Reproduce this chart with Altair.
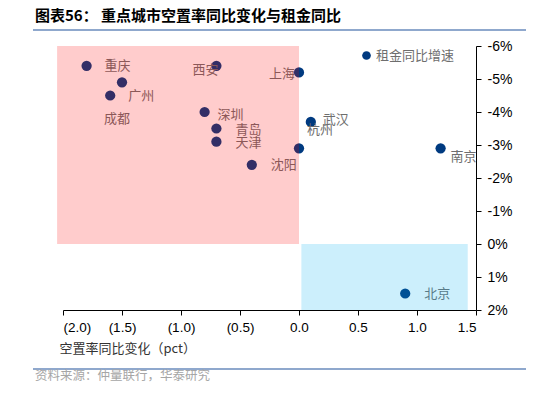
import altair as alt
import pandas as pd

# ---- data ----
cities = ["重庆", "成都", "广州", "西安", "上海", "深圳", "青岛", "天津", "沈阳", "杭州", "武汉", "南京", "北京"]
vacancy_chg = [-1.8, -1.5, -1.6, -0.7, 0.0, -0.8, -0.7, -0.7, -0.4, 0.0, 0.1, 1.2, 0.9]
rent_yoy = [-5.4, -4.9, -4.5, -5.4, -5.2, -4.0, -3.5, -3.1, -2.4, -2.9, -3.7, -2.9, 1.5]

zone_names = ["pink", "blue"]
zone_x1 = [-2.05, 0.02]
zone_x2 = [0.0, 1.43]
zone_y1 = [-6.0, 0.0]
zone_y2 = [0.0, 2.0]
zone_colors = ["#FF0000", "#00B0F0"]

x_ticks = [-2.0, -1.5, -1.0, -0.5, 0.0, 0.5, 1.0, 1.5]
y_ticks = [-6, -5, -4, -3, -2, -1, 0, 1, 2]

series_name = "租金同比增速"
title_text = "图表56： 重点城市空置率同比变化与租金同比"
x_title = "空置率同比变化（pct）"
source_text = "资料来源：仲量联行，华泰研究"

# label placement styling (align, dx, dy) per city
label_style = {
    "重庆": ("left", 18, 0), "广州": ("left", 18, 0), "成都": ("center", -5, 37),
    "西安": ("right", 2, 4), "上海": ("right", -4, 2), "深圳": ("left", 13, 3),
    "青岛": ("left", 19, 1), "天津": ("left", 19, 1), "沈阳": ("left", 19, 0),
    "武汉": ("left", 12, -2), "杭州": ("left", 8, -18), "南京": ("left", 10, 9),
    "北京": ("left", 19, 0),
}

FONT = "Noto Sans CJK SC"
W, H = 413, 264

df = pd.DataFrame({"city": cities, "x": vacancy_chg, "y": rent_yoy})
df["series"] = series_name
zones = pd.DataFrame({"zone": zone_names, "x1": zone_x1, "x2": zone_x2, "y1": zone_y1, "y2": zone_y2})

xscale = alt.Scale(domain=[-2.0, 1.5], nice=False, zero=False)
yscale = alt.Scale(domain=[-6, 2], nice=False, zero=False, reverse=True)

x_axis = alt.Axis(
    values=x_ticks, grid=False, domainColor="#000", tickColor="#000", tickSize=5,
    labelExpr="datum.value < 0 ? '(' + format(-datum.value, '.1f') + ')' : format(datum.value, '.1f')",
    labelFont="Liberation Sans", labelFontSize=13.5, labelColor="#000", labelPadding=5,
    labelOverlap=False,
    title=x_title, titleFont=FONT, titleFontSize=13, titleFontWeight="normal", titleColor="#333",
    titleAnchor="start", titleAlign="left", titleX=-4, titleY=42, titleBaseline="alphabetic",
)
y_axis = alt.Axis(
    orient="right", values=y_ticks, grid=False, domainColor="#000", tickColor="#000", tickSize=5,
    labelExpr="datum.value + '%'", labelFont="Liberation Sans", labelFontSize=14, labelColor="#000",
    labelPadding=6, labelOverlap=False, title=None,
)

base = alt.Chart(df)

points = base.mark_circle(size=105, opacity=1).encode(
    x=alt.X("x:Q", scale=xscale, axis=x_axis),
    y=alt.Y("y:Q", scale=yscale, axis=y_axis),
    color=alt.Color(
        "series:N",
        scale=alt.Scale(domain=[series_name], range=["#003A80"]),
        legend=alt.Legend(
            title=None, orient="none", legendX=297, legendY=3, symbolType="circle", symbolSize=75,
            labelFont=FONT, labelFontSize=13, labelColor="#6E6E6E", padding=0, labelOffset=3,
        ),
    ),
)

label_layers = []
groups = {}
for c in cities:
    groups.setdefault(label_style[c], []).append(c)
for (align, dx, dy), names in groups.items():
    label_layers.append(
        base.transform_filter(alt.FieldOneOfPredicate(field="city", oneOf=names))
        .mark_text(align=align, baseline="middle", dx=dx, dy=dy, font=FONT, fontSize=13, color="#6E6E6E")
        .encode(x=alt.X("x:Q", scale=xscale, axis=x_axis),
                y=alt.Y("y:Q", scale=yscale, axis=y_axis), text="city:N")
    )

rects = alt.Chart(zones).mark_rect(opacity=0.2).encode(
    x=alt.X("x1:Q", scale=xscale, axis=x_axis),
    x2="x2:Q",
    y=alt.Y("y1:Q", scale=yscale, axis=y_axis),
    y2="y2:Q",
    color=alt.Color("zone:N", scale=alt.Scale(domain=zone_names, range=zone_colors), legend=None),
)

top_line = alt.Chart(df).mark_rule(color="#8FA8CC", strokeWidth=1.5).encode(
    x=alt.value(-30), x2=alt.value(463), y=alt.value(-16)
)
bottom_line = alt.Chart(df).mark_rule(color="#8FA8CC", strokeWidth=1.5).encode(
    x=alt.value(-30), x2=alt.value(463), y=alt.value(323)
)
source = alt.Chart(pd.DataFrame({"t": [source_text]})).mark_text(
    align="left", baseline="middle", font=FONT, fontSize=12.5, color="#A6A6A6"
).encode(x=alt.value(-28), y=alt.value(330), text="t:N")

chart = alt.layer(points, *label_layers, rects, top_line, bottom_line, source).resolve_scale(
    color="independent"
).properties(
    width=W, height=H,
    background="white",
    autosize=alt.AutoSizeParams(type="none"),
    padding={"left": 55, "top": 38, "right": 50, "bottom": 75},
    title=alt.Title(title_text, anchor="start", font=FONT, fontSize=15, fontWeight="bold",
                    color="#000", dx=-28, offset=5, frame="group"),
).configure_view(stroke=None)

chart.save("out.html", embed_options={"renderer": "svg", "actions": False})
